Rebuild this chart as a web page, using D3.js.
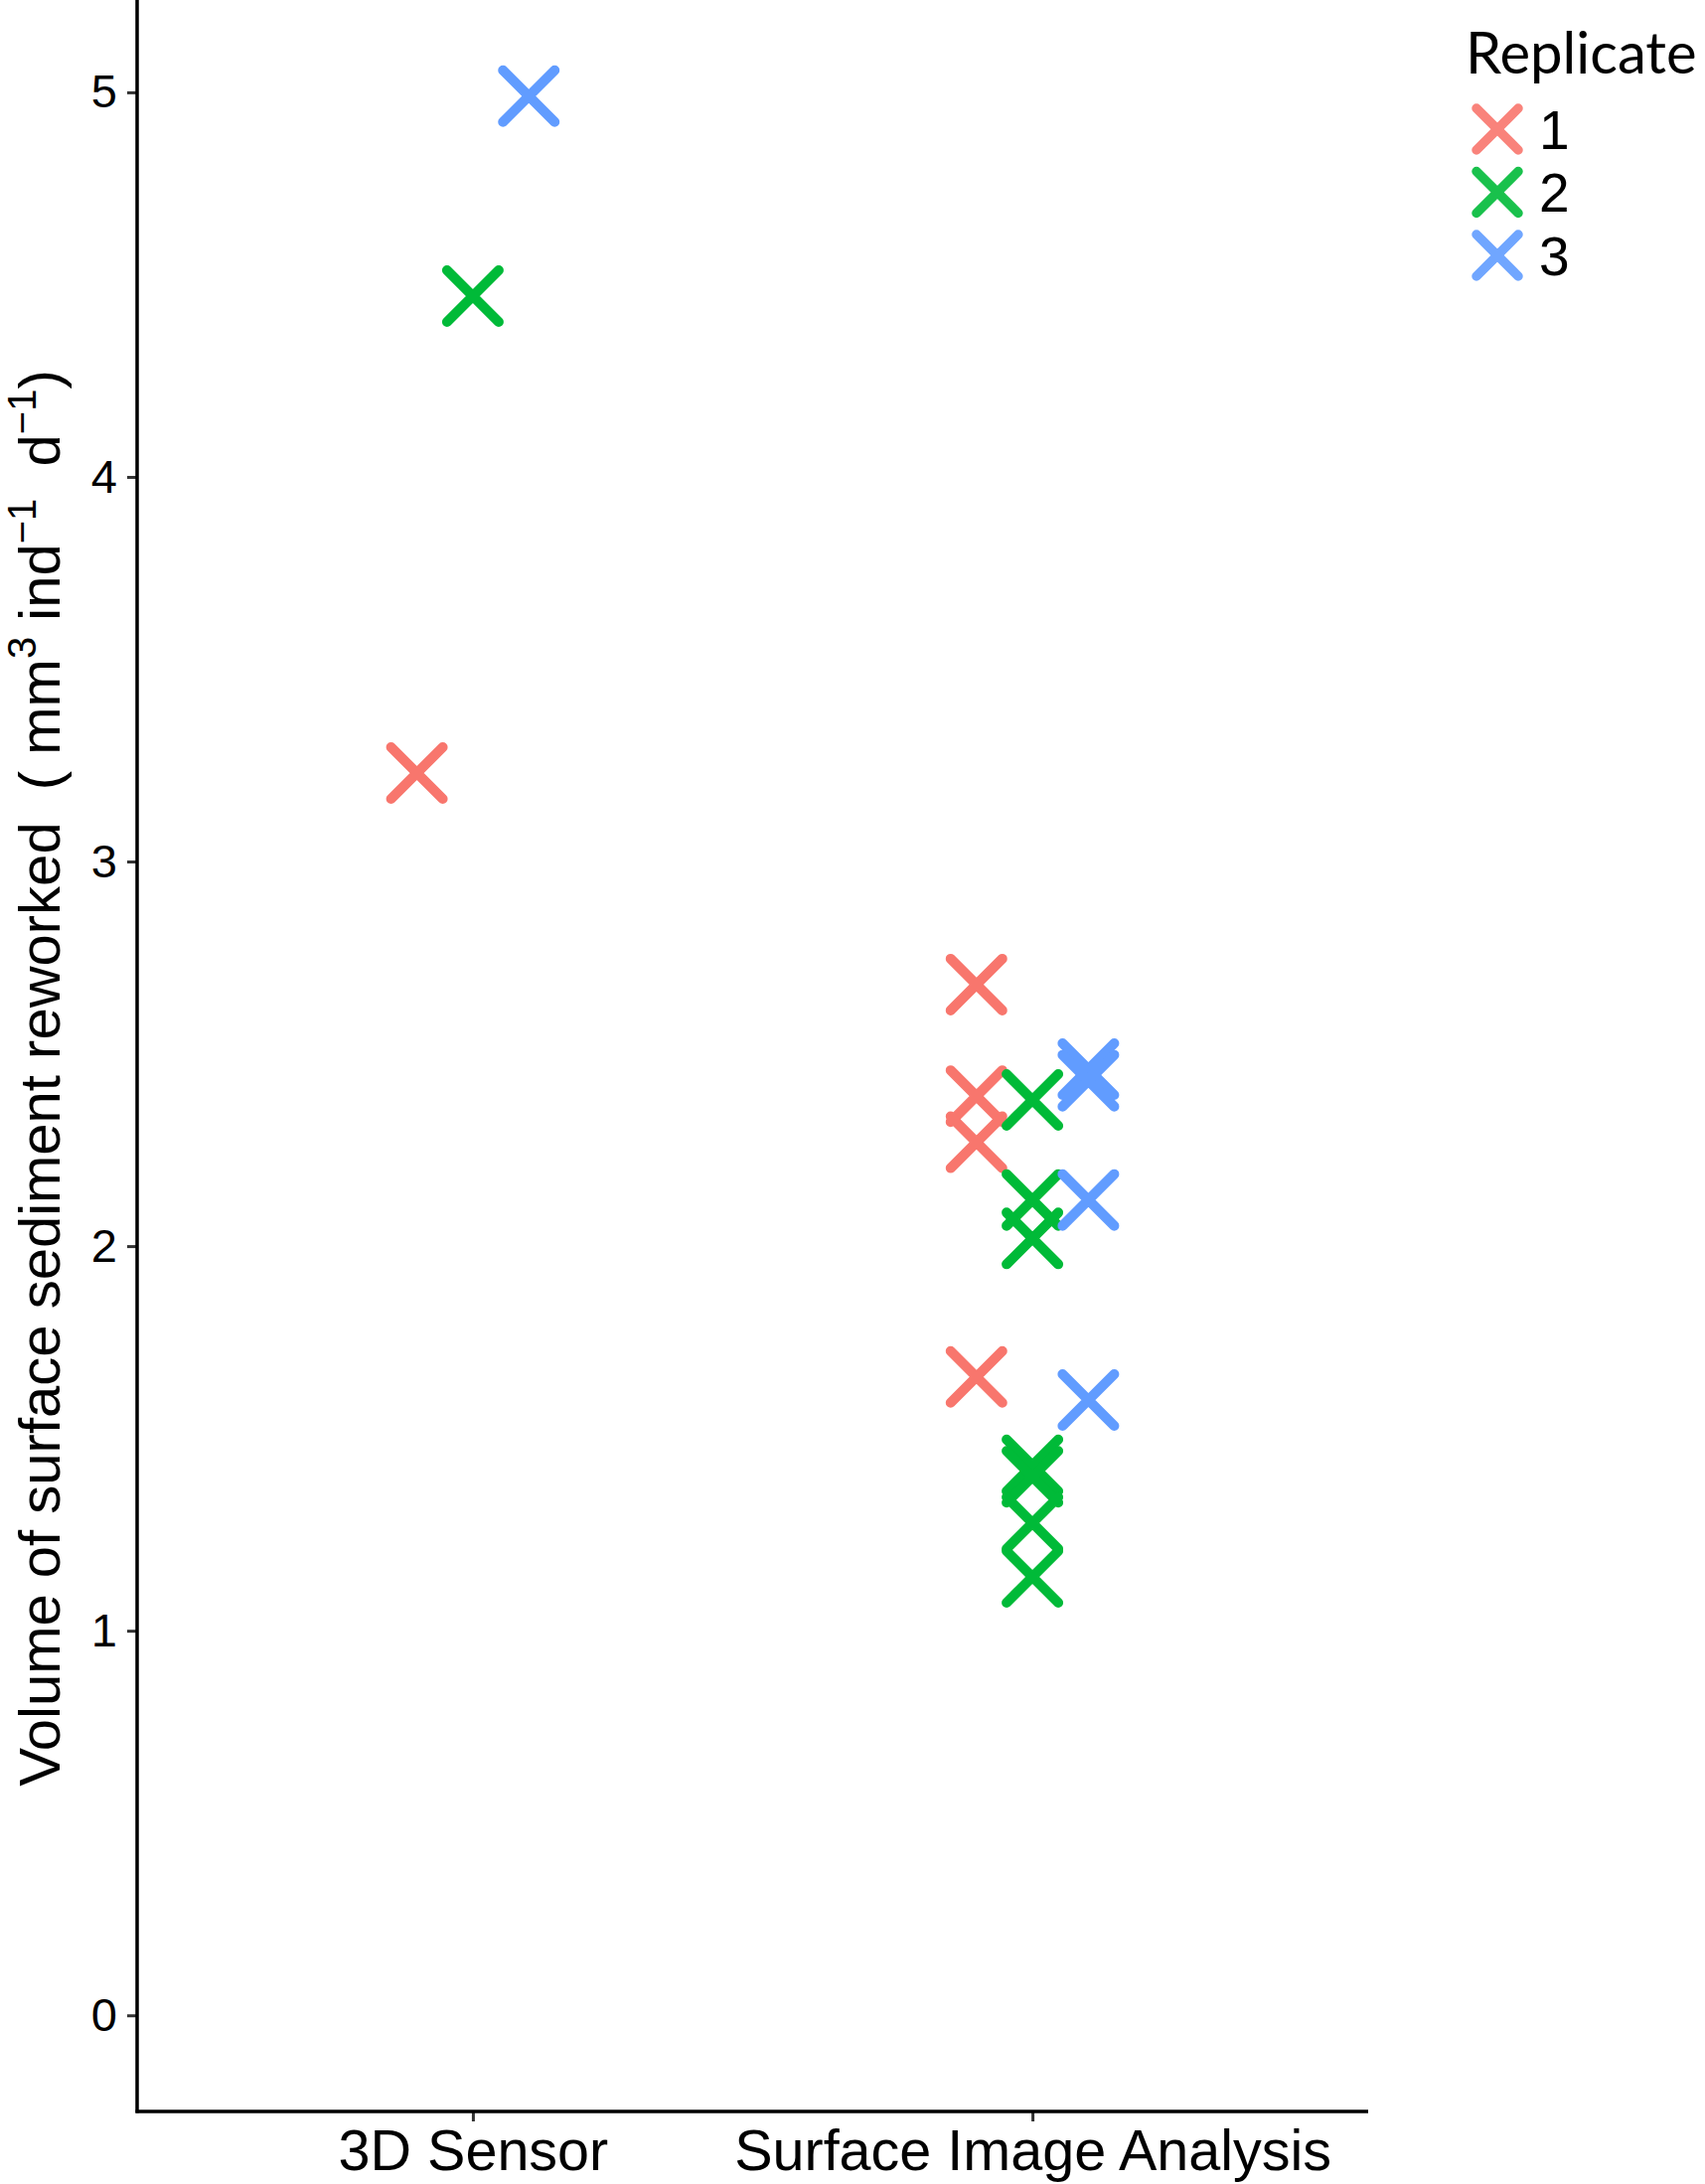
<!DOCTYPE html>
<html>
<head>
<meta charset="utf-8">
<script src="https://cdn.jsdelivr.net/npm/d3@7"></script>
<style>
body { margin: 0; background: #fff; }
svg { display: block; }
text { font-family: "Liberation Sans", Arial, sans-serif; fill: #000; }
</style>
</head>
<body>
<svg class="chart"></svg>
<script>
var methods = ["3D Sensor", "Surface Image Analysis"];
var replicates = ["1", "2", "3"];
var colours = ["#F8766D", "#00BA38", "#619CFF"];
var yTicks = [0, 1, 2, 3, 4, 5];

// values (mm3 ind-1 d-1), per method and replicate
var sensorRep1 = [3.23];
var sensorRep2 = [4.47];
var sensorRep3 = [4.99];
var imageRep1 = [2.68, 2.39, 2.27, 1.66];
var imageRep2 = [2.38, 2.12, 2.02, 1.43, 1.40, 1.28, 1.14];
var imageRep3 = [2.46, 2.43, 2.12, 1.60];

var width = 1716, height = 2198;
var plot = { left: 138, right: 1377, top: 0, bottom: 2125 };

var points = [];
function addPoints(method, rep, values) {
    values.forEach(function(v) {
        points.push({ method: method, rep: rep, value: v });
    });
}
addPoints(methods[0], "1", sensorRep1);
addPoints(methods[0], "2", sensorRep2);
addPoints(methods[0], "3", sensorRep3);
addPoints(methods[1], "1", imageRep1);
addPoints(methods[1], "2", imageRep2);
addPoints(methods[1], "3", imageRep3);

var x = d3.scalePoint()
    .domain(methods)
    .range([plot.left, plot.right])
    .padding(0.6);

var dodge = d3.scalePoint()
    .domain(replicates)
    .range([-0.1 * x.step(), 0.1 * x.step()]);

var y = d3.scaleLinear()
    .domain([-0.25, 5.24])
    .range([plot.bottom, plot.top]);

var colour = d3.scaleOrdinal()
    .domain(replicates)
    .range(colours);

var chart = d3.select(".chart")
    .attr("width", width)
    .attr("height", height);

function cross(h) {
    return "M" + (-h) + "," + (-h) + "L" + h + "," + h + "M" + (-h) + "," + h + "L" + h + "," + (-h);
}

// y axis
var yAxis = chart.append("g")
    .attr("transform", "translate(" + plot.left + ",0)")
    .call(d3.axisLeft(y).tickValues(yTicks).tickSize(10).tickPadding(10).tickFormat(d3.format("d")));
yAxis.select(".domain").remove();
yAxis.selectAll(".tick line").attr("stroke", "#333").attr("stroke-width", 3);
yAxis.selectAll(".tick text").style("font-size", "47px").attr("fill", "#000");

// x axis
var xAxis = chart.append("g")
    .attr("transform", "translate(0," + plot.bottom + ")")
    .call(d3.axisBottom(x).tickSize(10).tickPadding(8));
xAxis.select(".domain").remove();
xAxis.selectAll(".tick line").attr("stroke", "#333").attr("stroke-width", 3);
xAxis.selectAll(".tick text").style("font-size", "57.5px").attr("fill", "#000");

// axis lines
chart.append("line")
    .attr("x1", plot.left).attr("x2", plot.left)
    .attr("y1", plot.top).attr("y2", plot.bottom + 1.5)
    .attr("stroke", "#000").attr("stroke-width", 3.5);
chart.append("line")
    .attr("x1", plot.left - 1.5).attr("x2", plot.right)
    .attr("y1", plot.bottom).attr("y2", plot.bottom)
    .attr("stroke", "#000").attr("stroke-width", 3.5);

// y title with superscripts
var yTitle = chart.append("text")
    .attr("transform", "translate(60," + ((1801 + 369) / 2) + ") rotate(-90)")
    .attr("text-anchor", "middle")
    .style("font-size", "58px")
    .attr("xml:space", "preserve");
yTitle.append("tspan").text("Volume of surface sediment reworked  ( mm");
yTitle.append("tspan").attr("dy", -24).style("font-size", "40px").text("3");
yTitle.append("tspan").attr("dy", 24).text(" ind");
yTitle.append("tspan").attr("dy", -24).style("font-size", "40px").text("\u22121");
yTitle.append("tspan").attr("dy", 24).text("  d");
yTitle.append("tspan").attr("dy", -24).style("font-size", "40px").text("\u22121");
yTitle.append("tspan").attr("dy", 24).text(")");

// points
chart.append("g")
    .selectAll("path.pt")
    .data(points)
    .enter()
    .append("path")
    .attr("class", "pt")
    .attr("d", cross(26))
    .attr("transform", function(d) {
        return "translate(" + (x(d.method) + dodge(d.rep)) + "," + y(d.value) + ")";
    })
    .attr("fill", "none")
    .attr("stroke", function(d) { return colour(d.rep); })
    .attr("stroke-width", 10)
    .attr("stroke-linecap", "round");

// legend
var legend = chart.append("g").attr("transform", "translate(1475,0)");
legend.append("text")
    .attr("x", 0).attr("y", 74)
    .style("font-family", "Lato, 'Open Sans', sans-serif")
    .style("font-size", "58px")
    .text("Replicate");

var keys = legend.selectAll("g.key")
    .data(replicates)
    .enter()
    .append("g")
    .attr("class", "key")
    .attr("transform", function(d, i) { return "translate(32," + (130 + i * 63.5) + ")"; });
keys.append("path")
    .attr("d", cross(21))
    .attr("fill", "none")
    .attr("stroke", function(d) { return colour(d); })
    .attr("stroke-width", 9.5)
    .attr("stroke-linecap", "round")
    .attr("opacity", 0.9);
keys.append("text")
    .attr("x", 42)
    .attr("dy", "0.36em")
    .style("font-size", "55px")
    .text(function(d) { return d; });
</script>
</body>
</html>
